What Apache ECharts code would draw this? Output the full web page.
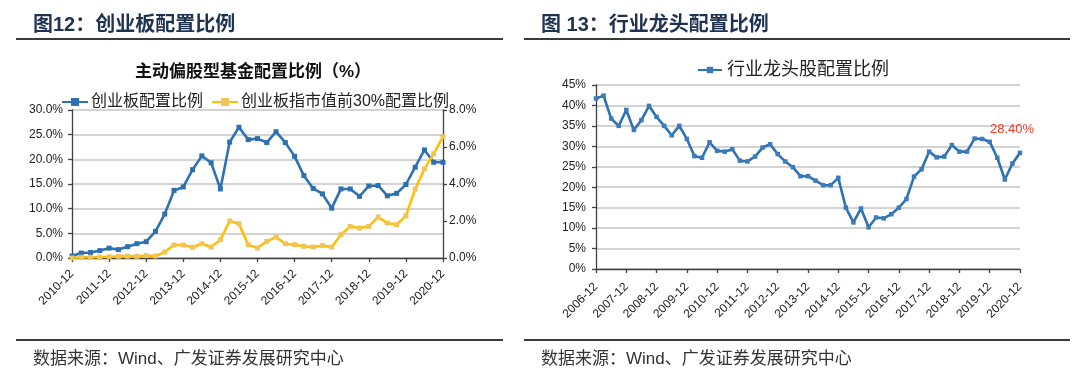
<!DOCTYPE html>
<html><head><meta charset="utf-8">
<script src="https://cdn.jsdelivr.net/npm/echarts@6/dist/echarts.min.js"></script>
<style>html,body{margin:0;padding:0;background:#fff}#c{width:1080px;height:375px}</style>
</head><body><div id="c"></div>
<script>
// ---- data ----
function quarters(y0, y1) { // quarter-end labels from y0-12 to y1-12
  const out = [y0 + '-12'];
  for (let y = y0 + 1; y <= y1; y++) ['03','06','09','12'].forEach(m => out.push(y + '-' + m));
  return out;
}
const leftCategories = quarters(2010, 2020);
const gemAllocation = [0.4,1.0,1.1,1.5,2.0,1.7,2.3,2.9,3.3,5.4,8.9,13.7,14.4,17.9,20.7,19.3,14.0,23.5,26.5,24.0,24.2,23.4,25.6,23.4,20.6,16.7,14.1,13.0,10.1,14.0,14.0,12.5,14.6,14.7,12.6,13.1,14.9,18.4,21.9,19.4,19.4];
const gemTop30Allocation = [0.0,0.04,0.04,0.05,0.07,0.09,0.10,0.09,0.13,0.11,0.32,0.70,0.70,0.58,0.77,0.59,0.99,2.00,1.85,0.71,0.54,0.90,1.13,0.77,0.72,0.63,0.59,0.67,0.59,1.26,1.71,1.62,1.71,2.21,1.89,1.80,2.28,3.72,4.82,5.63,6.56];
const rightCategories = quarters(2006, 2020);
const leaderAllocation = [41.7,42.4,36.8,35.0,38.9,34.0,36.4,39.9,37.2,35.0,32.7,35.0,31.8,27.6,27.2,31.0,28.9,28.7,29.3,26.5,26.3,27.5,29.7,30.5,28.1,26.3,24.9,22.7,22.7,21.6,20.5,20.5,22.3,15.0,11.4,14.8,10.2,12.6,12.4,13.4,15.0,17.1,22.6,24.4,28.7,27.3,27.5,30.3,28.7,28.7,31.9,31.8,31.1,27.2,21.9,25.8,28.4];
const leftTicks = [0,5,10,15,20,25,30];
const rightTicks = [0,2,4,6,8];

// ---- chart ----
const LAT = "'Liberation Sans', Arial, sans-serif";
const CJK = "'Liberation Sans', 'Noto Sans CJK SC', sans-serif";
const chart = echarts.init(document.getElementById('c'));
const axisLineStyle = {color:'#404040', width:1.3};
const lastIdx = leaderAllocation.length - 1;
chart.setOption({
  animation:false,
  backgroundColor:'#fff',
  title:[
    {text:'图12：创业板配置比例', left:28, top:10, textStyle:{fontFamily:CJK, fontSize:20, fontWeight:'bold', color:'#1f3251'}},
    {text:'图 13：行业龙头配置比例', left:536, top:10, textStyle:{fontFamily:CJK, fontSize:20, fontWeight:'bold', color:'#1f3251'}},
    {text:'主动偏股型基金配置比例（%）', left:248, textAlign:'center', top:59, textStyle:{fontFamily:CJK, fontSize:17, fontWeight:'bold', color:'#111'}},
    {text:'数据来源：Wind、广发证券发展研究中心', left:28, top:346, textStyle:{fontFamily:CJK, fontSize:17, fontWeight:'normal', color:'#333'}},
    {text:'数据来源：Wind、广发证券发展研究中心', left:536, top:346, textStyle:{fontFamily:CJK, fontSize:17, fontWeight:'normal', color:'#333'}}
  ],
  graphic:[
    {type:'line', shape:{x1:16,y1:39,x2:503,y2:39}, style:{stroke:'#3a3a3a', lineWidth:2}},
    {type:'line', shape:{x1:524,y1:39,x2:1070,y2:39}, style:{stroke:'#3a3a3a', lineWidth:2}},
    {type:'line', shape:{x1:16,y1:340,x2:503,y2:340}, style:{stroke:'#3a3a3a', lineWidth:2}},
    {type:'line', shape:{x1:524,y1:340,x2:1070,y2:340}, style:{stroke:'#3a3a3a', lineWidth:2}}
  ],
  legend:[
    {left:56, top:89, itemWidth:26, itemHeight:10, itemGap:8,
     data:['创业板配置比例','创业板指市值前30%配置比例'],
     textStyle:{fontFamily:CJK, fontSize:16, color:'#222', padding:[0,0,0,-2]}},
    {left:692, top:56, itemWidth:24, itemHeight:8, data:['行业龙头股配置比例'],
     textStyle:{fontFamily:CJK, fontSize:18, color:'#222'}}
  ],
  grid:[
    {left:72, right:637, top:110, height:148},
    {left:596, right:60, top:85, height:184}
  ],
  xAxis:[
    {type:'category', gridIndex:0, data:leftCategories, boundaryGap:false,
     axisLine:{lineStyle:axisLineStyle},
     axisTick:{interval:3, length:4, lineStyle:axisLineStyle},
     axisLabel:{interval:3, rotate:45, fontFamily:LAT, fontSize:12, color:'#222', margin:14}},
    {type:'category', gridIndex:1, data:rightCategories, boundaryGap:false,
     axisLine:{lineStyle:axisLineStyle},
     axisTick:{interval:3, length:4, lineStyle:axisLineStyle},
     axisLabel:{interval:3, rotate:45, fontFamily:LAT, fontSize:12, color:'#222', margin:16}}
  ],
  yAxis:[
    {type:'value', gridIndex:0, min:leftTicks[0], max:leftTicks[leftTicks.length-1], interval:5,
     axisLine:{show:true, lineStyle:axisLineStyle}, axisTick:{show:true, length:4, lineStyle:axisLineStyle},
     splitLine:{lineStyle:{color:'#c4c4c4', width:1.5}},
     axisLabel:{formatter:v=>v.toFixed(1)+'%', fontFamily:LAT, fontSize:12, color:'#222', margin:9}},
    {type:'value', gridIndex:0, position:'right', min:rightTicks[0], max:rightTicks[rightTicks.length-1], interval:2,
     axisLine:{show:true, lineStyle:axisLineStyle}, axisTick:{show:true, length:4, lineStyle:axisLineStyle},
     splitLine:{show:false},
     axisLabel:{formatter:v=>v.toFixed(1)+'%', fontFamily:LAT, fontSize:12, color:'#222', margin:6}},
    {type:'value', gridIndex:1, min:0, max:45, interval:5,
     axisLine:{show:true, lineStyle:axisLineStyle}, axisTick:{show:true, length:4, lineStyle:axisLineStyle},
     splitLine:{lineStyle:{color:'#c4c4c4', width:1.5}},
     axisLabel:{formatter:'{value}%', fontFamily:LAT, fontSize:12, color:'#222', margin:10}}
  ],
  series:[
    {name:'创业板配置比例', type:'line', xAxisIndex:0, yAxisIndex:0, data:gemAllocation,
     symbol:'rect', symbolSize:5, showAllSymbol:true,
     lineStyle:{color:'#2e72b4', width:2.6}, itemStyle:{color:'#2e6fb0'}},
    {name:'创业板指市值前30%配置比例', type:'line', xAxisIndex:0, yAxisIndex:1, data:gemTop30Allocation,
     symbol:'rect', symbolSize:5, showAllSymbol:true,
     lineStyle:{color:'#ffc000', width:2.6}, itemStyle:{color:'#efc55a'}},
    {name:'行业龙头股配置比例', type:'line', xAxisIndex:1, yAxisIndex:2, data:leaderAllocation,
     symbol:'rect', symbolSize:4.5, showAllSymbol:true,
     lineStyle:{color:'#2e72b0', width:2.6}, itemStyle:{color:'#3a7bbb'},
     label:{show:true, position:'top', distance:15, offset:[-8,0], color:'#f03c28', fontFamily:LAT, fontSize:13,
       formatter:p=>p.dataIndex===lastIdx ? p.value.toFixed(2)+'%' : ''}}
  ]
});
</script></body></html>
